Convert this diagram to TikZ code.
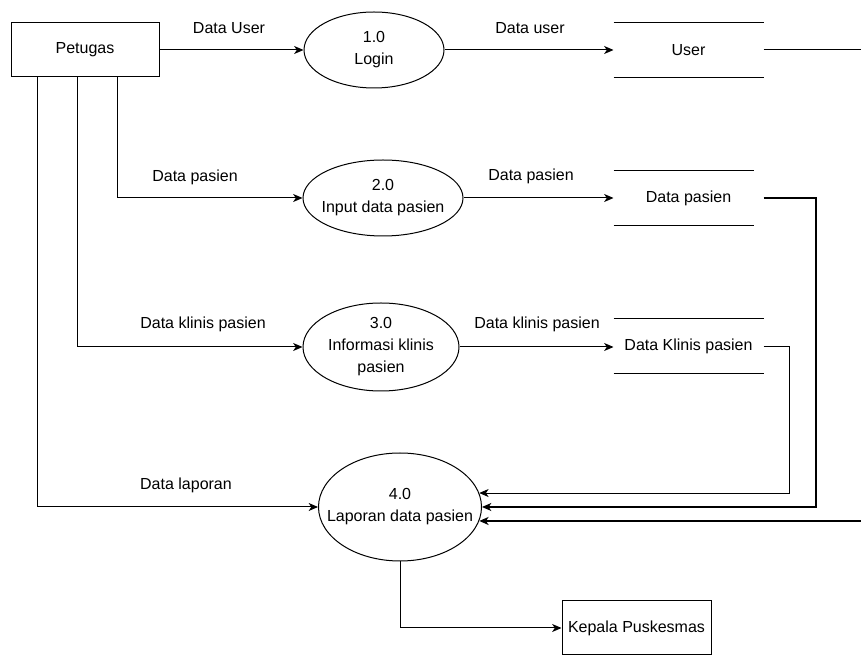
\documentclass[tikz,border=0pt]{standalone}
\usepackage{fontspec}
\setmainfont{Liberation Sans}
\usetikzlibrary{shapes.geometric,arrows.meta,calc}
\begin{document}
\begin{tikzpicture}[x=0.75pt,y=-0.75pt,
  font=\fontsize{12}{16.5}\selectfont,
  line width=0.75pt,
  ent/.style={draw, rectangle, minimum width=111pt, minimum height=40.5pt, inner sep=0pt},
  proc/.style={draw, ellipse, inner xsep=-50pt, inner ysep=0pt, align=center},
  store/.style={rectangle, minimum width=111.75pt, minimum height=40.5pt, inner sep=0pt},
  flow/.style={-{Stealth[length=7pt,width=6pt,inset=2pt]}},
  lbl/.style={inner sep=0pt}
]
\useasboundingbox (0,0) rectangle (861,655);

% external entities
\node[ent] (petugas) at (85,50) {Petugas};
\node[ent, minimum width=111.75pt] (kepala) at (636.5,628) {Kepala Puskesmas};

% processes (fixed-size ellipses)
\node[proc, minimum width=105pt, minimum height=57pt] (p1) at (374,50) {1.0\\Login};
\node[proc, minimum width=120pt, minimum height=57pt] (p2) at (383,198) {2.0\\Input data pasien};
\node[proc, minimum width=117pt, minimum height=66pt] (p3) at (381,347) {3.0\\Informasi klinis\\pasien};
\node[proc, minimum width=122.25pt, minimum height=81pt] (p4) at (400,507) {4.0\\Laporan data pasien};

% data stores (open rectangles)
\node[store] (d1) at (688.5,50) {User};
\node[store] (d2) at (688.5,198) {Data pasien};
\node[store] (d3) at (688.5,346) {Data Klinis pasien};
\draw (d1.north west) -- (d1.north east) (d1.south west) -- (d1.south east);
\draw (d2.north west) -- ([xshift=-7.5pt]d2.north east) (d2.south west) -- ([xshift=-7.5pt]d2.south east);
\draw (d3.north west) -- (d3.north east) (d3.south west) -- (d3.south east);

% helper points for the routed flows
\coordinate (edgeX) at (861,0);
\coordinate (r2) at (816,0);
\coordinate (r3) at (789,0);
\coordinate (edgeU) at (d1.east -| edgeX);
\coordinate (edgeB) at (p4.-10 -| edgeX);

% flows from Petugas
\draw[flow] (petugas.east) -- (p1.west);
\draw[flow] ([xshift=80.25pt]petugas.south west) |- (p2.west);
\draw[flow] ([xshift=50.25pt]petugas.south west) |- (p3.west);
\draw[flow] ([xshift=20.25pt]petugas.south west) |- (p4.west);

% flows into the stores
\draw[flow] (p1.east) -- (p1.east -| d1.west);
\draw[flow] (p2.east) -- (p2.east -| d2.west);
\draw[flow] (p3.east) -- (p3.east -| d3.west);

% flows from the stores into process 4.0
\draw (d1.east) -- (edgeU);
\draw[flow, line width=1pt] (d2.east) -- (d2.east -| r2) |- (p4.east);
\draw[flow, line width=0.6pt] (d3.east) -- (d3.east -| r3) |- (p4.10);
\draw[flow, line width=1.4pt] (edgeB) -- (p4.-10);

% report output
\draw[flow] (p4.south) |- (kepala.west);

% flow labels
\node[lbl] (l1) at (229,28) {Data User};
\node[lbl] (l2) at (530,28) {Data user};
\node[lbl] (l3) at (195,177) {Data pasien};
\node[lbl] (l4) at (531,176) {Data pasien};
\node[lbl] (l5) at (203,324) {Data klinis pasien};
\node[lbl] (l6) at (537,324) {Data klinis pasien};
\node[lbl] (l7) at (186,485) {Data laporan};
\end{tikzpicture}
\end{document}
